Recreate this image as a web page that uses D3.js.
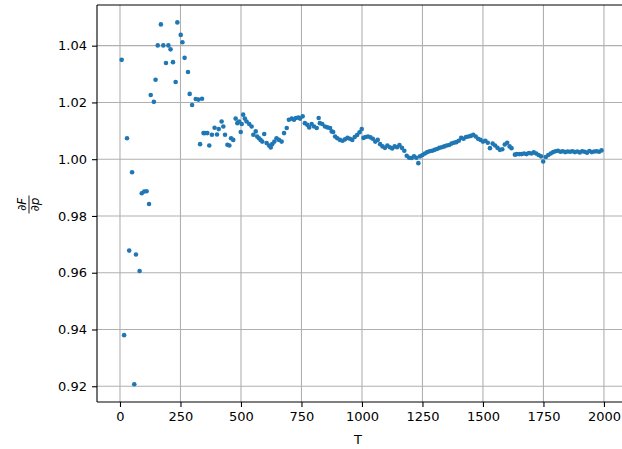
<!DOCTYPE html>
<html>
<head>
<meta charset="utf-8">
<script src="https://cdn.jsdelivr.net/npm/d3@7"></script>
<style>
  html, body { margin: 0; padding: 0; background: #fff; }
  svg { display: block; }
  text { font-family: "DejaVu Sans", sans-serif; }
</style>
</head>
<body>
<script>
// Sample times T
const tValues = [
  7, 17, 29, 38, 50, 59, 66, 81, 90, 100, 110, 120, 127, 140, 147, 156, 169, 179, 190, 200,
  209, 219, 230, 237, 251, 258, 267, 281, 288, 298, 313, 324, 339,
  331, 345, 351, 361, 369, 380, 391, 401, 408, 420, 427, 434, 444, 452, 459, 468, 478,
  485, 492, 499, 503, 509, 516, 523, 534, 544, 551, 561, 567, 574, 581, 588, 596, 606,
  616, 623, 629, 638, 647, 657, 668, 678, 689, 698, 710, 719, 727, 737, 744, 755, 764,
  774, 782, 792, 802, 813, 821, 826, 836, 847, 857, 868, 875, 881, 889, 898, 909, 920,
  930, 940, 950, 960, 970, 980, 990, 999, 1006, 1015, 1025, 1035, 1045, 1055, 1065, 1075,
  1085, 1095, 1105, 1115, 1125, 1135, 1145, 1155, 1165, 1175, 1185, 1195, 1205, 1215, 1225,
  1233, 1240, 1250, 1260, 1270, 1280, 1290, 1300, 1310, 1320, 1330, 1340, 1350, 1360, 1370,
  1380, 1390, 1400, 1410, 1420, 1430, 1440, 1450, 1460, 1470, 1480, 1490, 1500, 1510, 1520,
  1529, 1540, 1550, 1560, 1570, 1580, 1590, 1600, 1610, 1618, 1632, 1640, 1650, 1660, 1670,
  1680, 1690, 1700, 1710, 1720, 1730, 1740, 1749, 1760, 1770, 1780, 1790, 1800, 1810, 1820,
  1830, 1840, 1850, 1860, 1870, 1880, 1890, 1900, 1910, 1920, 1930, 1940, 1950, 1960, 1970,
  1980, 1990
];

// dF/dp estimate at each T
const dFdp = [
  1.0350, 0.9380, 1.0074, 0.9678, 0.9954, 0.9207, 0.9664, 0.9606, 0.9880, 0.9886, 0.9887, 0.9842,
  1.0226, 1.0202, 1.0280, 1.0401, 1.0475, 1.0401, 1.0339, 1.0401,
  1.0387, 1.0342, 1.0272, 1.0482, 1.0438, 1.0412, 1.0357, 1.0307, 1.0230, 1.0191, 1.0212, 1.0210, 1.0213,
  1.0053, 1.0092, 1.0092, 1.0092, 1.0048, 1.0086, 1.0111, 1.0087, 1.0106, 1.0133, 1.0115, 1.0086,
  1.0051, 1.0048, 1.0074, 1.0068, 1.0143,
  1.0127, 1.0133, 1.0096, 1.0124, 1.0157, 1.0143, 1.0133, 1.0124, 1.0115, 1.0086, 1.0098, 1.0080,
  1.0074, 1.0068, 1.0062, 1.0089, 1.0057,
  1.0048, 1.0041, 1.0053, 1.0062, 1.0074, 1.0068, 1.0062, 1.0092, 1.0110, 1.0139, 1.0143, 1.0139,
  1.0145, 1.0147, 1.0143, 1.0151, 1.0127,
  1.0121, 1.0112, 1.0124, 1.0115, 1.0110, 1.0145, 1.0127, 1.0124, 1.0115, 1.0112, 1.0110, 1.0098,
  1.0096, 1.0080, 1.0074, 1.0068, 1.0065,
  1.0070, 1.0075, 1.0072, 1.0068, 1.0078, 1.0085, 1.0095, 1.0106, 1.0075, 1.0078, 1.0080, 1.0077,
  1.0072, 1.0062, 1.0068, 1.0053,
  1.0045, 1.0040, 1.0048, 1.0042, 1.0038, 1.0045, 1.0042, 1.0050, 1.0040, 1.0030, 1.0012, 1.0005,
  1.0004, 1.0010, 1.0005,
  0.9986, 1.0010, 1.0015, 1.0020, 1.0025, 1.0028, 1.0030, 1.0033, 1.0036, 1.0040, 1.0042, 1.0045,
  1.0048, 1.0050, 1.0055,
  1.0058, 1.0060, 1.0065, 1.0075, 1.0072, 1.0078, 1.0080, 1.0082, 1.0086, 1.0080, 1.0072, 1.0068,
  1.0062, 1.0065, 1.0058,
  1.0039, 1.0055, 1.0048, 1.0040, 1.0033, 1.0035, 1.0052, 1.0058, 1.0045, 1.0039, 1.0016, 1.0018,
  1.0018, 1.0018, 1.0020,
  1.0018, 1.0022, 1.0020, 1.0024, 1.0020, 1.0015, 1.0010, 0.9992, 1.0008, 1.0015, 1.0020, 1.0025,
  1.0028, 1.0030, 1.0026,
  1.0028, 1.0025, 1.0027, 1.0026, 1.0028, 1.0025, 1.0027, 1.0024, 1.0028, 1.0026, 1.0023, 1.0029,
  1.0025, 1.0027, 1.0028,
  1.0026, 1.0031
];

const xTicks = [0, 250, 500, 750, 1000, 1250, 1500, 1750, 2000];
const yTicks = [0.92, 0.94, 0.96, 0.98, 1.00, 1.02, 1.04];

const W = 622, H = 449;
const plot = { left: 97, right: 625, top: 5, bottom: 402 };

const svg = d3.select("body").append("svg")
  .attr("width", W).attr("height", H);

const x = d3.scaleLinear().domain([-95, 2087]).range([plot.left, plot.right]);
const y = d3.scaleLinear().domain([0.91445, 1.05433]).range([plot.bottom, plot.top]);

// grid
const grid = svg.append("g").attr("stroke", "#b0b0b0").attr("stroke-width", 1.1);
grid.selectAll("line.v").data(xTicks).join("line")
  .attr("class", "v")
  .attr("x1", d => x(d)).attr("x2", d => x(d))
  .attr("y1", plot.top).attr("y2", plot.bottom);
grid.selectAll("line.h").data(yTicks).join("line")
  .attr("class", "h")
  .attr("x1", plot.left).attr("x2", plot.right)
  .attr("y1", d => y(d)).attr("y2", d => y(d));

// points
const pts = tValues.map((t, i) => ({ t, v: dFdp[i] }));
svg.append("g").selectAll("circle").data(pts).join("circle")
  .attr("cx", d => x(d.t)).attr("cy", d => y(d.v))
  .attr("r", 2.3).attr("fill", "#1f77b4");

// axes
const xAxis = d3.axisBottom(x).tickValues(xTicks).tickFormat(d3.format("d"))
  .tickSize(5).tickPadding(5);
const yAxis = d3.axisLeft(y).tickValues(yTicks).tickFormat(d3.format(".2f"))
  .tickSize(5).tickPadding(5);

const gx = svg.append("g").attr("transform", `translate(0,${plot.bottom})`).call(xAxis);
const gy = svg.append("g").attr("transform", `translate(${plot.left},0)`).call(yAxis);
[gx, gy].forEach(g => {
  g.select(".domain").remove();
  g.selectAll(".tick line").attr("stroke", "#000").attr("stroke-width", 1.1);
  g.selectAll(".tick text").attr("fill", "#000").attr("font-size", 13)
    .attr("font-family", "DejaVu Sans");
});

// spines
const sp = svg.append("g").attr("stroke", "#000").attr("stroke-width", 1.1).attr("fill", "none");
sp.append("line").attr("x1", plot.left).attr("x2", plot.left).attr("y1", plot.top).attr("y2", plot.bottom);
sp.append("line").attr("x1", plot.left).attr("x2", plot.right).attr("y1", plot.bottom).attr("y2", plot.bottom);
sp.append("line").attr("x1", plot.left).attr("x2", plot.right).attr("y1", plot.top).attr("y2", plot.top);
sp.append("line").attr("x1", plot.right).attr("x2", plot.right).attr("y1", plot.top).attr("y2", plot.bottom);

// x label
svg.append("text")
  .attr("x", (plot.left + plot.right) / 2 - 3).attr("y", 444)
  .attr("text-anchor", "middle").attr("font-size", 13).attr("fill", "#000")
  .text("T");

// y label: fraction dF/dp, rotated
const yl = svg.append("g")
  .attr("transform", `translate(29,${(plot.top + plot.bottom) / 2 + 1}) rotate(-90)`);
yl.append("text").attr("x", 0).attr("y", -3).attr("text-anchor", "middle")
  .attr("font-size", 12).attr("font-style", "italic").attr("fill", "#000")
  .text("∂F");
yl.append("line").attr("x1", -9).attr("x2", 9).attr("y1", 0).attr("y2", 0)
  .attr("stroke", "#000").attr("stroke-width", 0.9);
yl.append("text").attr("x", 0).attr("y", 10).attr("text-anchor", "middle")
  .attr("font-size", 12).attr("font-style", "italic").attr("fill", "#000")
  .text("∂p");
</script>
</body>
</html>
